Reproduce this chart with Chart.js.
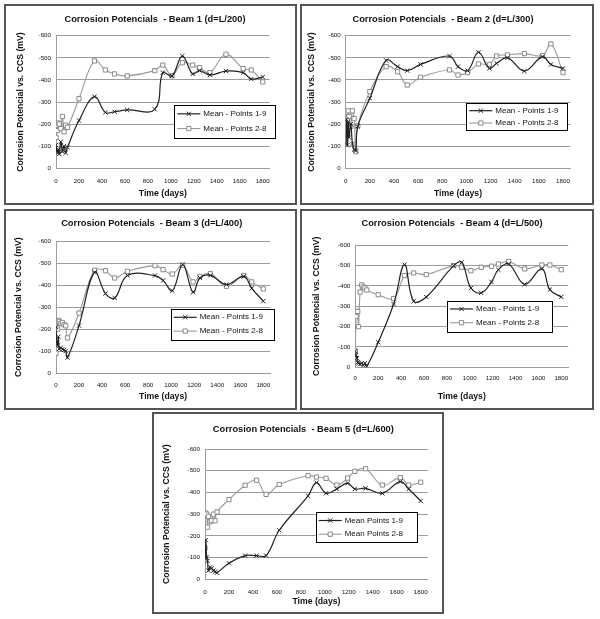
<!DOCTYPE html>
<html>
<head>
<meta charset="utf-8">
<script src="https://cdn.jsdelivr.net/npm/chart.js@4.4.0/dist/chart.umd.min.js"></script>
<style>
  html, body { margin: 0; padding: 0; background: #fff; }
  body { width: 600px; height: 619px; position: relative; overflow: hidden; }
  .panel { position: absolute; box-sizing: border-box; border: 2px solid #555; background: #fff; }
  .panel canvas { position: absolute; left: 0; top: 0; }
</style>
</head>
<body>
<script>
// time of each reading (days)
const days = [0, 7, 14, 21, 28, 42, 56, 70, 84, 100, 200, 335, 430, 510, 620, 860, 930, 1010, 1100, 1190, 1250, 1340, 1480, 1630, 1700, 1800];

// mean potentials (mV) per beam, points 1-9 and points 2-8
const beam1Pts19 = [-105, -80, -70, -85, -65, -120, -75, -100, -70, -95, -216, -324, -253, -256, -264, -267, -433, -418, -508, -427, -442, -422, -440, -433, -404, -413];
const beam1Pts28 = [-140, -195, -170, -205, -200, -180, -235, -165, -195, -185, -315, -486, -445, -427, -418, -442, -467, -419, -478, -467, -455, -433, -516, -451, -445, -391];

const beam2Pts19 = [-110, -220, -105, -210, -140, -200, -110, -85, -80, -190, -317, -488, -460, -442, -470, -508, -460, -442, -525, -452, -475, -500, -440, -505, -470, -452];
const beam2Pts28 = [-130, -255, -215, -260, -235, -190, -260, -225, -75, -192, -347, -460, -437, -377, -412, -445, -422, -433, -472, -470, -508, -513, -519, -510, -563, -433];

const beam3Pts19 = [-210, -140, -125, -165, -110, -115, -108, -105, -100, -70, -216, -459, -362, -342, -444, -444, -422, -375, -494, -368, -433, -445, -403, -440, -386, -327];
const beam3Pts28 = [-90, -210, -200, -240, -235, -225, -230, -220, -215, -160, -273, -468, -466, -433, -463, -489, -471, -451, -491, -415, -440, -453, -395, -444, -415, -383];

const beam4Pts19 = [-80, -60, -45, -25, -20, -15, -20, -10, -20, -5, -123, -311, -505, -325, -346, -500, -516, -390, -366, -420, -480, -508, -408, -485, -382, -346];
const beam4Pts28 = [-80, -250, -275, -275, -200, -370, -405, -395, -390, -380, -357, -338, -451, -464, -456, -500, -492, -475, -492, -497, -508, -520, -484, -503, -503, -480];

const beam5Pts19 = [-100, -180, -100, -85, -40, -55, -50, -40, -35, -30, -74, -109, -109, -109, -226, -384, -445, -396, -416, -443, -416, -419, -396, -450, -416, -361];
const beam5Pts28 = [-145, -305, -300, -240, -290, -265, -270, -300, -270, -310, -367, -433, -456, -391, -437, -477, -471, -465, -434, -466, -497, -509, -434, -468, -434, -447];

const titles = [
  'Corrosion Potencials  - Beam 1 (d=L/200)',
  'Corrosion Potencials  - Beam 2 (d=L/300)',
  'Corrosion Potencials  - Beam 3 (d=L/400)',
  'Corrosion Potencials  - Beam 4 (d=L/500)',
  'Corrosion Potencials  - Beam 5 (d=L/600)'
];
const seriesNames = [
  ['Mean - Points 1-9', 'Mean - Points 2-8'],
  ['Mean - Points 1-9', 'Mean - Points 2-8'],
  ['Mean - Points 1-9', 'Mean - Points 2-8'],
  ['Mean - Points 1-9', 'Mean - Points 2-8'],
  ['Mean Points 1-9', 'Mean Points 2-8']
];
const seriesValues = [
  [beam1Pts19, beam1Pts28],
  [beam2Pts19, beam2Pts28],
  [beam3Pts19, beam3Pts28],
  [beam4Pts19, beam4Pts28],
  [beam5Pts19, beam5Pts28]
];
const xTicks = [0, 200, 400, 600, 800, 1000, 1200, 1400, 1600, 1800];
const yTicks = [0, -100, -200, -300, -400, -500, -600];
const xAxisTitle = 'Time (days)';
const yAxisTitle = 'Corrosion Potencial vs. CCS (mV)';

// page layout of the five panels (absolute px)
const panels = [
  { box: [4, 4, 293, 201], x0: 56, x1800: 262.7, top: 35.7, bottom: 168.3, title: [155, 19], yTitleX: 20.3, xLabY: 181.7, xTitleY: 193.3, legend: [174.3, 105, 275.7, 137.7] },
  { box: [300, 4, 294, 201], x0: 345.7, x1800: 563, top: 35.7, bottom: 168.3, title: [443, 19], yTitleX: 311.3, xLabY: 181.7, xTitleY: 193.3, legend: [466.3, 103.3, 567.3, 130.7] },
  { box: [4, 209, 293, 201], x0: 56, x1800: 263.3, top: 241.3, bottom: 373, title: [151.7, 223], yTitleX: 18.3, xLabY: 385.7, xTitleY: 396.3, legend: [170.7, 309, 273.3, 339.7] },
  { box: [300, 209, 294, 201], x0: 355.3, x1800: 561.3, top: 245.3, bottom: 367.3, title: [452, 223], yTitleX: 316.3, xLabY: 378, xTitleY: 397, legend: [447, 300.7, 552.3, 331.3] },
  { box: [152, 412, 292, 202], x0: 205, x1800: 420.7, top: 449, bottom: 579.3, title: [303.3, 429], yTitleX: 166.7, xLabY: 592.7, xTitleY: 601.7, legend: [315.7, 512.3, 416.7, 542.7] }
];

const FONT = "'Liberation Sans', Arial, sans-serif";
const X_MAX = 1860;
const TITLE_SIZE = 9.3, AXIS_TITLE_SIZE = 8.7, TICK_SIZE = 6.2, LEGEND_SIZE = 8;
const DARK = '#222', LIGHT = '#9a9a9a', GRID = '#9c9c9c', TEXT = '#111';

Chart.defaults.font.family = FONT;

// legend drawn inside the plot area, as in the original sheet
const legendBox = {
  id: 'legendBox',
  afterLayout(chart, args, opts) {
    // the sheet's title is not centred on the canvas; move it to where it was
    const t = chart.titleBlock;
    if (t && opts.titleX != null) {
      const w = t.right - t.left;
      t.left = opts.titleX - w / 2;
      t.right = opts.titleX + w / 2;
    }
  },
  afterDatasetsDraw(chart, args, opts) {
    const ctx = chart.ctx;
    const [x1, y1, x2, y2] = opts.box;
    ctx.save();
    ctx.fillStyle = '#fff';
    ctx.fillRect(x1, y1, x2 - x1, y2 - y1);
    ctx.strokeStyle = '#000';
    ctx.lineWidth = 1;
    ctx.strokeRect(Math.round(x1) + 0.5, Math.round(y1) + 0.5, Math.round(x2 - x1), Math.round(y2 - y1));
    chart.data.datasets.forEach((ds, i) => {
      const y = y1 + (y2 - y1) * (i === 0 ? 0.27 : 0.72);
      ctx.strokeStyle = ds.borderColor;
      ctx.lineWidth = ds.borderWidth;
      ctx.beginPath();
      ctx.moveTo(x1 + 3, y);
      ctx.lineTo(x1 + 26, y);
      ctx.stroke();
      const s = ds.pointRadius * Math.SQRT1_2;
      const cx = x1 + 14.5;
      ctx.lineWidth = 1;
      ctx.strokeStyle = ds.pointBorderColor;
      ctx.beginPath();
      if (ds.pointStyle === 'rect') {
        ctx.fillStyle = ds.pointBackgroundColor;
        ctx.rect(cx - s, y - s, 2 * s, 2 * s);
        ctx.fill();
        ctx.stroke();
      } else {
        ctx.moveTo(cx - s, y - s); ctx.lineTo(cx + s, y + s);
        ctx.moveTo(cx + s, y - s); ctx.lineTo(cx - s, y + s);
        ctx.stroke();
      }
      ctx.fillStyle = TEXT;
      ctx.font = LEGEND_SIZE + 'px ' + FONT;
      ctx.textBaseline = 'middle';
      ctx.textAlign = 'left';
      ctx.fillText(ds.label, x1 + 29, y);
    });
    ctx.restore();
  }
};

function makeChart(p, k) {
  const [bx, by, bw, bh] = p.box;
  const panel = document.createElement('div');
  panel.className = 'panel';
  Object.assign(panel.style, { left: bx + 'px', top: by + 'px', width: bw + 'px', height: bh + 'px' });
  const canvas = document.createElement('canvas');
  const W = bw - 4, H = bh - 4;
  canvas.width = W; canvas.height = H;
  canvas.style.width = W + 'px'; canvas.style.height = H + 'px';
  panel.appendChild(canvas);
  document.body.appendChild(panel);

  const ox = bx + 2, oy = by + 2;
  const cl = p.x0 - ox;
  const cr = p.x0 + (p.x1800 - p.x0) * X_MAX / 1800 - ox;
  const ct = p.top - oy, cb = p.bottom - oy;
  const tx = p.title[0] - ox, ty = p.title[1] - oy;
  const padR = W - cr;
  const tLH = TITLE_SIZE * 1.2, aLH = AXIS_TITLE_SIZE * 1.2, kLH = TICK_SIZE * 1.2;

  const [v19, v28] = seriesValues[k];
  const [n19, n28] = seriesNames[k];

  new Chart(canvas, {
    type: 'line',
    data: {
      datasets: [
        {
          label: n19,
          data: days.map((d, i) => ({ x: d, y: v19[i] })),
          borderColor: DARK, borderWidth: 1.2,
          pointStyle: 'crossRot', pointRadius: 3,
          pointBorderColor: DARK, pointBackgroundColor: DARK, pointBorderWidth: 1,
          tension: 0.4, fill: false
        },
        {
          label: n28,
          data: days.map((d, i) => ({ x: d, y: v28[i] })),
          borderColor: LIGHT, borderWidth: 1.1,
          pointStyle: 'rect', pointRadius: 3,
          pointBorderColor: '#8a8a8a', pointBackgroundColor: '#fff', pointBorderWidth: 1,
          tension: 0.4, fill: false
        }
      ]
    },
    options: {
      responsive: false,
      animation: false,
      devicePixelRatio: 1,
      layout: { padding: { left: 0, right: padR, top: 0, bottom: 0 } },
      plugins: {
        legend: { display: false },
        tooltip: { enabled: false },
        title: {
          display: true,
          text: titles[k],
          color: TEXT,
          font: { size: TITLE_SIZE, weight: 'bold', lineHeight: 1.2 },
          padding: { top: ty - tLH / 2, bottom: ct - ty - tLH / 2 }
        },
        legendBox: { titleX: tx, box: p.legend.map((v, i) => v - (i % 2 === 0 ? ox : oy)) }
      },
      scales: {
        x: {
          type: 'linear',
          min: 0, max: X_MAX,
          afterBuildTicks: s => { s.ticks = xTicks.map(v => ({ value: v })); },
          afterFit: s => { s.height = H - cb; },
          grid: { display: false, drawTicks: false },
          border: { display: true, color: GRID, width: 1 },
          ticks: {
            color: TEXT, font: { size: TICK_SIZE, lineHeight: 1.2 },
            padding: p.xLabY - oy - cb - kLH / 2,
            maxRotation: 0, autoSkip: false,
            callback: v => String(v)
          },
          title: {
            display: true, text: xAxisTitle, color: TEXT,
            font: { size: AXIS_TITLE_SIZE, weight: 'bold', lineHeight: 1.2 },
            padding: { top: 0, bottom: H - (p.xTitleY - oy) - aLH / 2 }
          }
        },
        y: {
          type: 'linear',
          reverse: true,
          min: -600, max: 0,
          afterBuildTicks: s => { s.ticks = yTicks.map(v => ({ value: v })); },
          afterFit: s => { s.width = cl; },
          grid: { color: GRID, lineWidth: 1, drawTicks: false },
          border: { display: true, color: GRID, width: 1 },
          ticks: {
            color: TEXT, font: { size: TICK_SIZE, lineHeight: 1.2 },
            padding: 5,
            callback: v => String(v)
          },
          title: {
            display: true, text: yAxisTitle, color: TEXT,
            font: { size: AXIS_TITLE_SIZE, weight: 'bold', lineHeight: 1.2 },
            padding: { top: (p.yTitleX - ox) - aLH / 2, bottom: 0 }
          }
        }
      }
    },
    plugins: [legendBox]
  });
}

panels.forEach((p, k) => makeChart(p, k));
</script>
</body>
</html>
